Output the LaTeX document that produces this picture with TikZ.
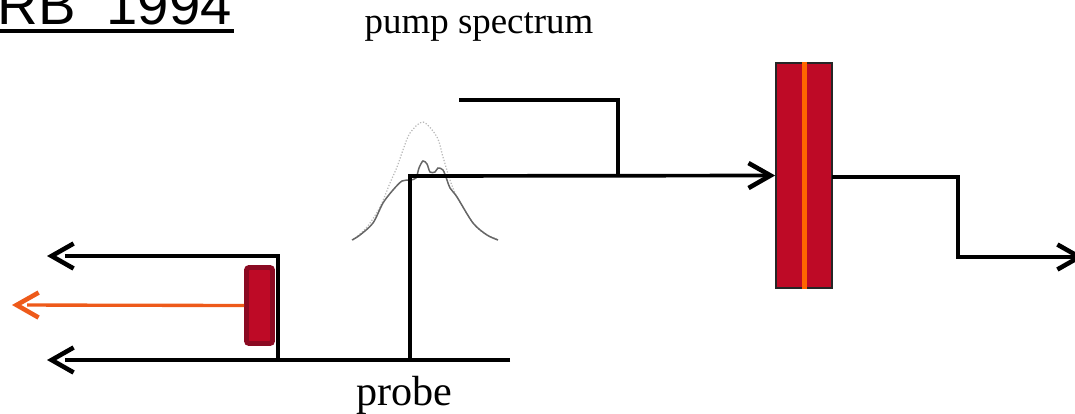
\documentclass[tikz,border=0pt]{standalone}
\usepackage{fontspec}
\setmainfont{Liberation Serif}
\newfontfamily\titlefont{Liberation Sans}
\usetikzlibrary{arrows.meta,calc}
\definecolor{cellred}{HTML}{BE0A26}
\definecolor{celledge}{HTML}{8B0A22}
\definecolor{stripeorange}{HTML}{FF6600}
\definecolor{probeorange}{HTML}{EE5A1A}
\tikzset{
  beam/.style={line width=2.1pt, line join=miter},
  beamarrow/.style={beam, -{Straight Barb[length=0.44cm,width=0.5cm,line width=2.6pt]}},
  shaftgap/.style={dash pattern=on #1 off 10cm},
  cell/.style={draw=black!85, line width=1pt, fill=cellred, inner sep=0pt, minimum width=1.12cm, minimum height=4.5cm},
  smallcell/.style={draw=celledge, line width=2.8pt, fill=cellred, rounded corners=1.5pt, inner sep=0pt, minimum width=0.52cm, minimum height=1.52cm}
}
\begin{document}
\begin{tikzpicture}[x=0.02cm,y=-0.02cm]

\useasboundingbox (0,0) rectangle (1075,413);

% Titre
\node[anchor=base east, inner sep=0pt, font=\titlefont\fontsize{32}{36}\selectfont] (title) at (232,24.5) {RB\hspace{0.3cm} 1994};
\draw[line width=2pt] (0,31) -- (234,31);

% Textes
\node[anchor=base, inner sep=0pt, font=\fontsize{21}{25}\selectfont] (pumplabel) at (479,33) {pump spectrum};
\node[anchor=base, inner sep=0pt, font=\fontsize{24}{28}\selectfont] (probelabel) at (404,405) {probe};

% Spectres
\draw[gray!55, densely dotted, line width=0.7pt] plot[smooth] coordinates {(353,240) (367,227) (380,207) (390,183) (397,167) (403,150) (410,133) (423,122) (437,137) (443,157) (450,180) (457,197) (473,223) (485,234) (497,239)};
\draw[black!60, line width=0.85pt] plot[smooth] coordinates {(352,240) (360,235) (373,223) (383,203) (393,190) (402,181) (410,180) (416,178) (419,168) (423,161) (427,164) (430,172) (435,172) (438,168) (443,170) (447,180) (450,188) (457,197) (473,223) (487,235) (498,240)};

% Cellules
\node[cell] (bigcell) at (804,175.5) {};
\fill[stripeorange] ($(bigcell.north)+(-2,0)$) rectangle ($(bigcell.south)+(3.3,0)$);
\node[smallcell] (smallcell) at (259.5,305.5) {};

% Points de passage
\coordinate (pumpstart) at (459,100);
\coordinate (pumpcorner) at (618,100);
\coordinate (pumpjoin) at (618,176);
\coordinate (probestart) at (510,360);
\coordinate (probesplit) at (410,360);
\coordinate (probecorner) at (410,176);
\coordinate (refsplit) at (278,360);
\coordinate (refcorner) at (278,256);
\coordinate (refend) at (47,256);
\coordinate (probeend) at (47,360);
\coordinate (signalend) at (12,305);
\coordinate (outstart) at (832,177);
\coordinate (outcorner) at (958,177);
\coordinate (outdown) at (958,257);
\coordinate (outend) at (1084,257);

% Faisceaux
\draw[beam] (pumpstart) -- (pumpcorner) -- (pumpjoin);
\draw[beamarrow] (probesplit) -- (probecorner) -- (bigcell.west);
\draw[beamarrow, shaftgap=8.9cm] (probestart) -- (probeend);
\draw[beamarrow, shaftgap=6.34cm] (refsplit) -- (refcorner) -- (refend);
\draw[beamarrow] (outstart) -- (outcorner) -- (outdown) -- (outend);

% Signal
\draw[beamarrow, probeorange, line width=1.9pt, shaftgap=4.34cm] (smallcell.west) -- (signalend);

\end{tikzpicture}
\end{document}
